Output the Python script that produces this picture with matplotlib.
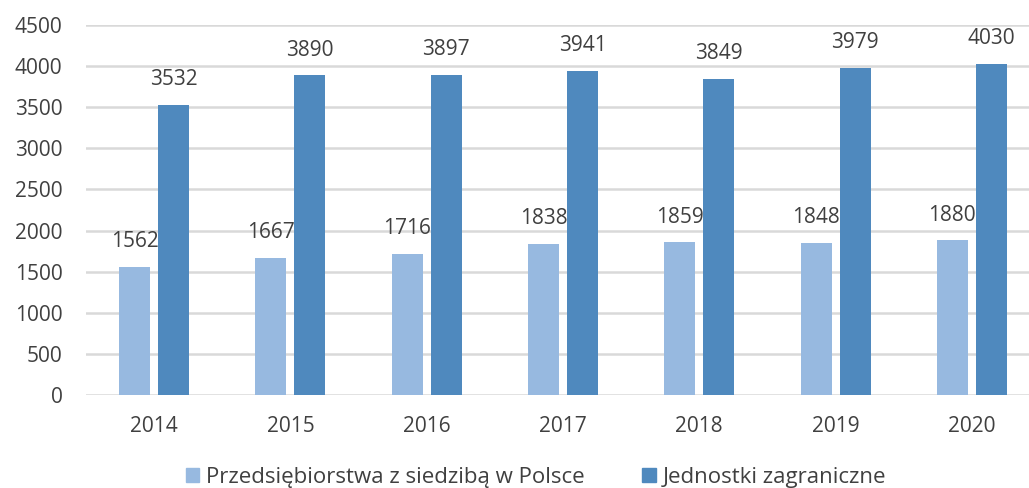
import matplotlib
matplotlib.use("Agg")
import matplotlib.pyplot as plt
import numpy as np
from matplotlib.patches import Patch

years = ["2014", "2015", "2016", "2017", "2018", "2019", "2020"]
polskie = [1562, 1667, 1716, 1838, 1859, 1848, 1880]
zagraniczne = [3532, 3890, 3897, 3941, 3849, 3979, 4030]
series_names = ["Przedsiębiorstwa z siedzibą w Polsce", "Jednostki zagraniczne"]
yticks = [0, 500, 1000, 1500, 2000, 2500, 3000, 3500, 4000, 4500]

light = "#97B9E0"
dark = "#4F89BE"
txt = "#404040"
grid = "#D9D9D9"

plt.rcParams['font.family'] = ['Open Sans', 'DejaVu Sans']

W, H = 1029, 488
fig = plt.figure(figsize=(W / 100, H / 100), dpi=100)
ax = fig.add_axes([86 / W, (H - 395) / H, (1040 - 86) / W, 370 / H])

x = np.arange(len(years))
bw = 0.227
off = 0.143
b1 = ax.bar(x - off, polskie, bw, color=light, zorder=3)
b2 = ax.bar(x + off, zagraniczne, bw, color=dark, zorder=3)

for bars, vals in ((b1, polskie), (b2, zagraniczne)):
    for r, v in zip(bars, vals):
        ax.annotate(str(v), (r.get_x() + r.get_width() / 2, v), xytext=(0, 10.5),
                    textcoords="offset points", ha="center", va="bottom",
                    fontsize=15, color=txt)

ax.set_xlim(-0.5, len(years) - 0.5)
ax.set_ylim(0, 4500)
ax.set_yticks(yticks)
ax.set_yticklabels([str(t) for t in yticks])
ax.set_xticks(x)
ax.set_xticklabels(years)
ax.tick_params(axis="both", length=0, labelsize=15, labelcolor=txt)
ax.tick_params(axis="y", pad=17)
ax.tick_params(axis="x", pad=15)
ax.yaxis.grid(True, color=grid, linewidth=1.8, zorder=0)
for s in ax.spines.values():
    s.set_visible(False)

handles = [Patch(color=light), Patch(color=dark)]
fig.legend(handles, series_names, loc="center", bbox_to_anchor=(536 / W, 1 - 477 / H),
           ncol=2, frameon=False, fontsize=16, labelcolor=txt,
           handlelength=0.6, handleheight=0.6, handletextpad=0.3, columnspacing=2.6,
           borderpad=0)

fig.savefig("out.png", dpi=100)
